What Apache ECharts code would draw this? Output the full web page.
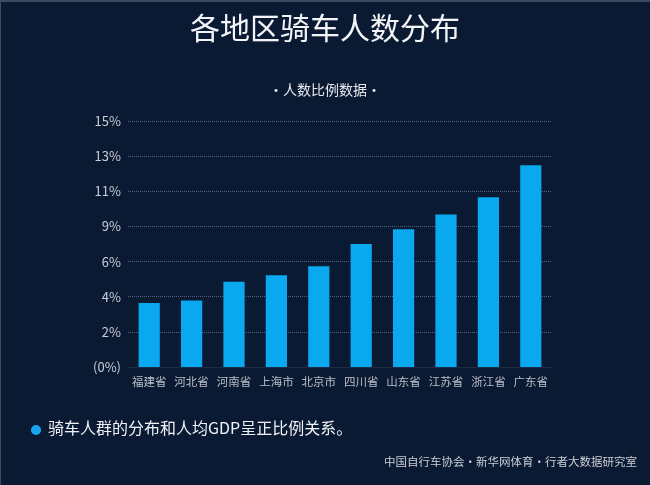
<!DOCTYPE html>
<html>
<head>
<meta charset="utf-8">
<script src="https://cdn.jsdelivr.net/npm/echarts@6/dist/echarts.min.js"></script>
<style>
  html, body { margin: 0; padding: 0; background: #0b1a33; }
  #wrap { position: relative; width: 650px; height: 485px; }
  #main { width: 650px; height: 485px; }
  #edge { position: absolute; left: 0; top: 0; width: 650px; height: 485px; box-sizing: border-box;
          border-top: 2px solid #3e4a5e; border-left: 1px solid #3e4a5e; pointer-events: none; }
</style>
</head>
<body>
<div id="wrap"><div id="main"></div><div id="edge"></div></div>
<script>
// 地区与人数比例（%）
const regions = ['福建省', '河北省', '河南省', '上海市', '北京市', '四川省', '山东省', '江苏省', '浙江省', '广东省']
const shares = [3.9, 4.05, 5.2, 5.6, 6.15, 7.5, 8.4, 9.3, 10.35, 12.3]
const yTickLabels = ['(0%)', '2%', '4%', '6%', '9%', '11%', '13%', '15%']
const yMax = 15
const yStep = yMax / 7

const titleText = '各地区骑车人数分布'
const subText = '·人数比例数据·'
const noteText = '骑车人群的分布和人均GDP呈正比例关系。'
const sourceText = '中国自行车协会·新华网体育·行者大数据研究室'

const font = '"Noto Sans CJK SC", "Noto Sans", sans-serif'

let myChart = echarts.init(document.getElementById('main'))
myChart.setOption({
  backgroundColor: '#0b1a33',
  animation: false,
  title: [
    {
      text: titleText,
      left: 'center',
      top: 8,
      textStyle: { color: '#f2f4f7', fontSize: 30, fontWeight: 'normal', fontFamily: font }
    },
    {
      text: subText,
      left: 'center',
      top: 78,
      textStyle: { color: '#e6e9ee', fontSize: 14, fontWeight: 'normal', fontFamily: font }
    }
  ],
  grid: { left: 128, right: 98, top: 121, bottom: 118 },
  xAxis: {
    type: 'category',
    data: regions,
    axisTick: { show: false },
    axisLine: { show: true, lineStyle: { color: '#1d2b45', width: 1 } },
    axisLabel: { color: '#b9bec8', fontSize: 11.5, margin: 9, interval: 0, fontFamily: font }
  },
  yAxis: {
    type: 'value',
    min: 0,
    max: yMax,
    interval: yStep,
    axisLine: { show: false },
    axisTick: { show: false },
    splitLine: { lineStyle: { color: '#55607a', type: 'dotted', width: 1 } },
    axisLabel: {
      color: '#c9cdd5',
      fontSize: 13,
      margin: 7,
      fontFamily: font,
      formatter: v => yTickLabels[Math.round(v / yStep)]
    }
  },
  series: [{
    type: 'bar',
    data: shares,
    barWidth: '50%',
    itemStyle: { color: '#0aa8ef' }
  }],
  graphic: [
    {
      type: 'circle',
      shape: { cx: 36, cy: 430, r: 5 },
      style: { fill: '#17a6ee' }
    },
    {
      type: 'text',
      left: 48,
      top: 420,
      style: { text: noteText, fill: '#eef1f5', fontSize: 16, fontFamily: font }
    },
    {
      type: 'text',
      right: 13,
      top: 456,
      style: { text: sourceText, fill: '#c9cdd5', fontSize: 11.5, fontFamily: font }
    }
  ]
})
</script>
</body>
</html>
